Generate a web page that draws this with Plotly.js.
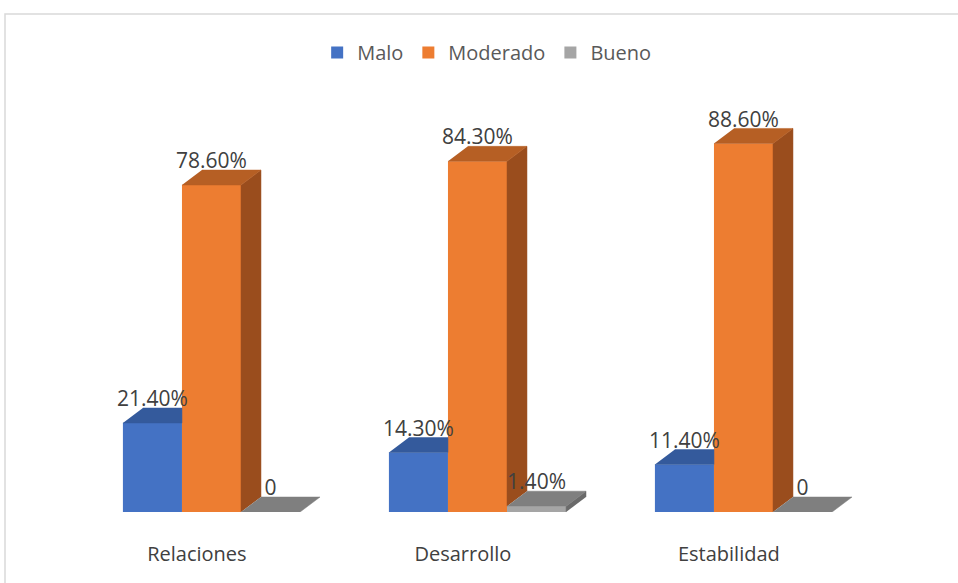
<!DOCTYPE html>
<html>
<head>
<meta charset="utf-8">
<script src="https://cdn.plot.ly/plotly-3.0.1.min.js"></script>
<style>
html,body{margin:0;padding:0;background:#fff;}
#chart{width:958px;height:583px;}
</style>
</head>
<body>
<div id="chart"></div>
<script>
// ---- data ----
const categories = ["Relaciones", "Desarrollo", "Estabilidad"];
const seriesNames = ["Malo", "Moderado", "Bueno"];
const malo = [21.4, 14.3, 11.4];
const moderado = [78.6, 84.3, 88.6];
const bueno = [0, 1.4, 0];

// ---- styling ----
const frontColors = ["#4472C4", "#ED7D31", "#A5A5A5"];
const topColors = ["#345A9C", "#B65F24", "#7F7F7F"];
const sideColors = ["#2B4A80", "#9A4D1D", "#6A6A6A"];
const allSeries = [malo, moderado, bueno];

const W = 0.222;          // bar width (x units)
const DX = 0.075;         // depth offset x (x units)
const DY = 3.6;           // depth offset y (y units)
const LABEL_DROP = 0.8;   // label nudge (y units)
const xIdx = categories.map((c, i) => i);

function fmt(v){ return v === 0 ? "0" : v.toFixed(2) + "%"; }

const traces = [];
// front faces (bars)
allSeries.forEach((vals, k) => {
  traces.push({
    type: "bar",
    name: seriesNames[k],
    x: xIdx,
    y: vals,
    width: W,
    offset: -1.5 * W + k * W,
    marker: {color: frontColors[k], line: {width: 0}},
    hoverinfo: "skip"
  });
});

// top and side faces
allSeries.forEach((vals, k) => {
  const tx = [], ty = [], sx = [], sy = [];
  vals.forEach((v, i) => {
    const x0 = xIdx[i] - 1.5 * W + k * W;
    const x1 = x0 + W;
    const next = k + 1 < allSeries.length ? allSeries[k + 1][i] : null;
    if (next !== null && next >= v + DY) {
      tx.push(x0, x1, x1, x0 + DX, null);
      ty.push(v, v, v + DY, v + DY, null);
    } else {
      tx.push(x0, x1, x1 + DX, x0 + DX, null);
      ty.push(v, v, v + DY, v + DY, null);
    }
    const base = next === null ? 0 : next;
    if (v > base) {
      sx.push(x1, x1, x1 + DX, x1 + DX, null);
      sy.push(base, v, v + DY, base + DY, null);
    }
  });
  traces.push({type: "scatter", mode: "lines", x: sx, y: sy, fill: "toself",
    fillcolor: sideColors[k], line: {width: 0.5, color: sideColors[k]},
    showlegend: false, hoverinfo: "skip", cliponaxis: false});
  traces.push({type: "scatter", mode: "lines", x: tx, y: ty, fill: "toself",
    fillcolor: topColors[k], line: {width: 0.5, color: topColors[k]},
    showlegend: false, hoverinfo: "skip", cliponaxis: false});
});

// data labels
allSeries.forEach((vals, k) => {
  traces.push({
    type: "scatter", mode: "text",
    x: vals.map((v, i) => xIdx[i] - 1.5 * W + k * W + W / 2),
    y: vals.map(v => v + DY - LABEL_DROP),
    text: vals.map(fmt),
    textposition: "top center",
    textfont: {family: "Open Sans, sans-serif", size: 21, color: "#404040"},
    showlegend: false, hoverinfo: "skip", cliponaxis: false
  });
});

const layout = {
  width: 958, height: 583,
  margin: {l: 0, r: 0, t: 100, b: 71},
  paper_bgcolor: "#ffffff", plot_bgcolor: "#ffffff",
  showlegend: true,
  legend: {orientation: "h", x: 0.508, xanchor: "center", y: 1.115, yanchor: "middle",
    font: {family: "Open Sans, sans-serif", size: 20, color: "#595959"},
    traceorder: "normal", itemclick: false},
  xaxis: {range: [-0.7951, 2.8064], tickvals: xIdx.map(i => i - 0.055), ticktext: categories,
    showgrid: false, zeroline: false, showline: false, ticks: "",
    ticklabelstandoff: 28,
    tickfont: {family: "Open Sans, sans-serif", size: 20, color: "#404040"}},
  yaxis: {range: [0, 99.04], visible: false, showgrid: false, zeroline: false},
  shapes: [{type: "rect", xref: "paper", yref: "paper", x0: 5/958, x1: 1.5, y0: -0.6, y1: (512-14)/412,
    line: {color: "#D9D9D9", width: 1.5}, fillcolor: "rgba(0,0,0,0)", layer: "below"}]
};

Plotly.newPlot("chart", traces, layout, {displayModeBar: false, staticPlot: true});
</script>
</body>
</html>
